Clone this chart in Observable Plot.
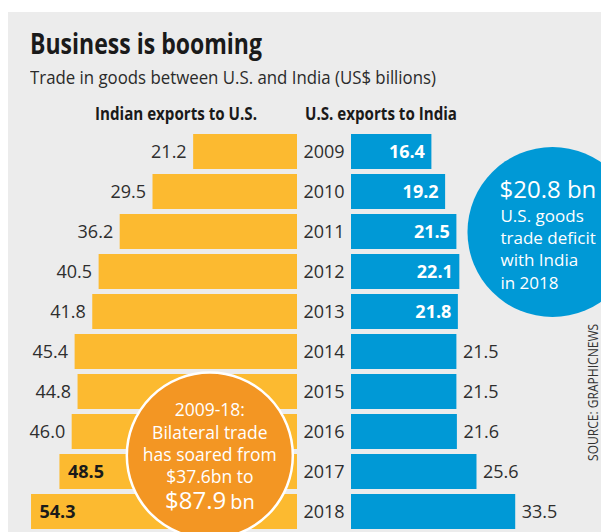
<!DOCTYPE html>
<html>
<head>
<meta charset="utf-8">
<script src="https://cdn.jsdelivr.net/npm/d3@7"></script>
<script src="https://cdn.jsdelivr.net/npm/@observablehq/plot@0.6"></script>
<style>
html, body { margin:0; padding:0; background:#fff; width:601px; height:532px; overflow:hidden; }
#card { position:absolute; left:8px; top:12px; width:593px; height:520px; background:#ececec; overflow:hidden; font-family:"Open Sans", sans-serif; color:#1e1e1e; }
.txt { position:absolute; white-space:nowrap; line-height:1; transform-origin:0 0; }
#title { left:22px; top:17px; font-size:28px; font-weight:700; color:#1a1a1a; }
#subtitle { left:22px; top:56px; font-size:19px; color:#2a2a2a; }
.head { top:93px; font-size:17.5px; font-weight:700; color:#1a1a1a; }
#headL { left:87px; }
#headR { left:297px; }
#source { font-size:15px; color:#333; writing-mode:vertical-rl; transform-origin:50% 50%; }
#left { position:absolute; left:0; top:118px; }
#right { position:absolute; left:289px; top:118px; }
#card svg { font-family:"Open Sans", sans-serif; }
</style>
</head>
<body>
<div id="card">
  <div id="title" class="txt"></div>
  <div id="subtitle" class="txt"></div>
  <div id="headL" class="txt head"></div>
  <div id="headR" class="txt head"></div>
  <div id="left"></div>
  <div id="right"></div>
  <div id="source" class="txt"></div>
</div>
<script>
// ---- data ----
const years = ["2009","2010","2011","2012","2013","2014","2015","2016","2017","2018"];
const indianExports = [21.2, 29.5, 36.2, 40.5, 41.8, 45.4, 44.8, 46.0, 48.5, 54.3];
const usExports = [16.4, 19.2, 21.5, 22.1, 21.8, 21.5, 21.5, 21.6, 25.6, 33.5];
const titleText = "Business is booming";
const subtitleText = "Trade in goods between U.S. and India (US$ billions)";
const seriesNames = ["Indian exports to U.S.", "U.S. exports to India"];
const sourceText = "SOURCE: GRAPHICNEWS";
const deficitHeadline = ["$20.8 bn"];
const deficitLines = ["U.S. goods", "trade deficit", "with India", "in 2018"];
const tradeLines = ["2009-18:", "Bilateral trade", "has soared from", "$37.6bn to"];
const tradeHeadline = ["$87.9", "bn"];

// ---- table ----
const rows = years.map((year, i) => ({year, india: indianExports[i], us: usExports[i]}));

const YELLOW = "#fcba30", BLUE = "#0099d6", ORANGE = "#f39623", DARK = "#2e2e2e";
const yScale = {domain: years, paddingInner: 0.125, paddingOuter: 0.0625, axis: null};
const fmt = d3.format(".1f");

// ---- left chart: Indian exports ----
const tradeAnchor = [{x: 17.9, y: "2016"}];
const left = Plot.plot({
  width: 289, height: 402,
  marginLeft: 0, marginRight: 0, marginTop: 1.5, marginBottom: 0.5,
  style: "background: transparent; overflow: hidden;",
  x: {domain: [0, 59], reverse: true, axis: null},
  y: yScale,
  marks: [
    Plot.barX(rows, {y: "year", x: "india", fill: YELLOW}),
    Plot.text(rows.filter(d => d.india < 47), {y: "year", x: "india", text: d => fmt(d.india), textAnchor: "end", dx: -7, fontSize: 18, fill: DARK}),
    Plot.text(rows.filter(d => d.india >= 47), {y: "year", x: "india", text: d => fmt(d.india), textAnchor: "start", dx: 8, fontSize: 18, fontWeight: "bold", fill: "#1a1a1a"}),
    Plot.dot(tradeAnchor, {x: "x", y: "y", r: 83, fill: ORANGE, stroke: "#fff", strokeWidth: 2.5, dy: 23.5}),
    Plot.text(tradeAnchor, {x: "x", y: "y", text: () => tradeLines.join("\n"), lineAnchor: "bottom", lineHeight: 1.27, fontSize: 17.5, fill: "#fff", textAnchor: "middle", dy: 51}),
    Plot.text(tradeAnchor, {x: "x", y: "y", text: () => tradeHeadline[0], lineAnchor: "bottom", fontSize: 24, fill: "#fff", textAnchor: "end", dx: 16.5, dy: 77}),
    Plot.text(tradeAnchor, {x: "x", y: "y", text: () => tradeHeadline[1], lineAnchor: "bottom", fontSize: 20, fill: "#fff", textAnchor: "start", dx: 20.5, dy: 77})
  ]
});
document.getElementById("left").append(left);

// ---- right chart: U.S. exports ----
const deficitAnchor = [{x: 41.0, y: "2011"}];
const right = Plot.plot({
  width: 304, height: 402,
  marginLeft: 54, marginRight: 0, marginTop: 1.5, marginBottom: 0.5,
  style: "background: transparent; overflow: hidden;",
  x: {domain: [0, 51], axis: null},
  y: yScale,
  marks: [
    Plot.barX(rows, {y: "year", x: "us", fill: BLUE}),
    Plot.text(years, {y: d => d, text: d => d, frameAnchor: "left", dx: -27.5, textAnchor: "middle", fontSize: 18, fill: DARK}),
    Plot.text(rows.filter(d => +d.year < 2014), {y: "year", x: "us", text: d => fmt(d.us), textAnchor: "end", dx: -7, fontSize: 18, fontWeight: "bold", fill: "#fff"}),
    Plot.text(rows.filter(d => +d.year >= 2014), {y: "year", x: "us", text: d => fmt(d.us), textAnchor: "start", dx: 6, fontSize: 18, fill: DARK}),
    Plot.dot(deficitAnchor, {x: "x", y: "y", r: 85, fill: BLUE}),
    Plot.text(deficitAnchor, {x: "x", y: "y", text: () => deficitHeadline[0], lineAnchor: "bottom", fontSize: 24, fill: "#fff", textAnchor: "start", dx: -53, dy: -34.5}),
    Plot.text(deficitAnchor, {x: "x", y: "y", text: () => deficitLines.join("\n"), lineAnchor: "bottom", lineHeight: 1.3, fontSize: 17, fill: "#fff", textAnchor: "start", dx: -52, dy: 56.5})
  ]
});
document.getElementById("right").append(right);

// ---- titles ----
function setText(id, text, targetWidth) {
  const el = document.getElementById(id);
  el.textContent = text;
  const w = el.getBoundingClientRect().width;
  el.style.transform = `scaleX(${targetWidth / w})`;
  return el;
}
setText("title", titleText, 232);
setText("subtitle", subtitleText, 406);
setText("headL", seriesNames[0], 162);
setText("headR", seriesNames[1], 152);

// vertical source credit (reads bottom to top)
const src = document.getElementById("source");
src.textContent = sourceText;
const sb = src.getBoundingClientRect();
src.style.left = (584.5 - sb.width / 2) + "px";
src.style.top = (380 - sb.height / 2) + "px";
src.style.transform = `rotate(180deg) scaleY(${137 / sb.height})`;
</script>
</body>
</html>
